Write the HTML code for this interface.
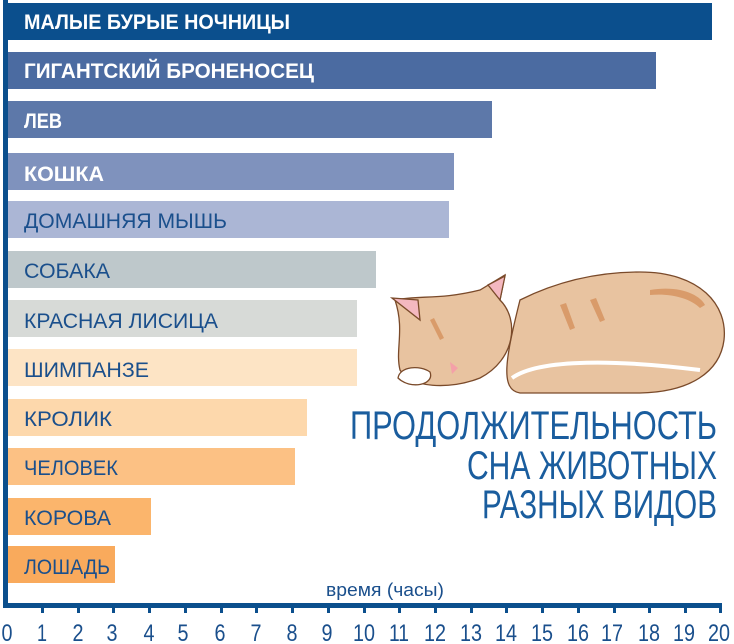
<!DOCTYPE html>
<html><head><meta charset="utf-8"><style>
body{margin:0;background:#fff;}
svg{display:block;}
text{font-family:"Liberation Sans",sans-serif;}
</style></head><body>
<svg width="734" height="644" viewBox="0 0 734 644" xmlns="http://www.w3.org/2000/svg">
<g font-size="21" font-weight="bold" lengthAdjust="spacingAndGlyphs">
<rect x="8" y="3" width="704" height="37" fill="#0b4f8d"/>
<text x="24" y="29" fill="#fff" textLength="266" lengthAdjust="spacingAndGlyphs">МАЛЫЕ БУРЫЕ НОЧНИЦЫ</text>
<rect x="8" y="52" width="648" height="37" fill="#4b6ba1"/>
<text x="24" y="78" fill="#fff" textLength="290" lengthAdjust="spacingAndGlyphs">ГИГАНТСКИЙ БРОНЕНОСЕЦ</text>
<rect x="8" y="101" width="484" height="37" fill="#5d78a9"/>
<text x="24" y="128" fill="#fff" textLength="38" lengthAdjust="spacingAndGlyphs">ЛЕВ</text>
<rect x="8" y="153" width="446" height="37" fill="#7f92bd"/>
<text x="24" y="181" fill="#fff" textLength="80" lengthAdjust="spacingAndGlyphs">КОШКА</text>
</g>
<g font-size="21" fill="#1a4f8c">
<rect x="8" y="201" width="441" height="37" fill="#abb6d5"/>
<text x="24" y="228" textLength="203" lengthAdjust="spacingAndGlyphs">ДОМАШНЯЯ МЫШЬ</text>
<rect x="8" y="251" width="368" height="37" fill="#bec8cb"/>
<text x="24" y="278" textLength="86" lengthAdjust="spacingAndGlyphs">СОБАКА</text>
<rect x="8" y="300" width="349" height="37" fill="#d7dad7"/>
<text x="24" y="328" textLength="194" lengthAdjust="spacingAndGlyphs">КРАСНАЯ ЛИСИЦА</text>
<rect x="8" y="349" width="349" height="37" fill="#fde4c5"/>
<text x="24" y="377" textLength="125" lengthAdjust="spacingAndGlyphs">ШИМПАНЗЕ</text>
<rect x="8" y="399" width="299" height="37" fill="#fdd8ac"/>
<text x="24" y="426" textLength="88" lengthAdjust="spacingAndGlyphs">КРОЛИК</text>
<rect x="8" y="448" width="287" height="37" fill="#fcc184"/>
<text x="24" y="475" textLength="94" lengthAdjust="spacingAndGlyphs">ЧЕЛОВЕК</text>
<rect x="8" y="498" width="143" height="37" fill="#fbb56c"/>
<text x="24" y="525" textLength="87" lengthAdjust="spacingAndGlyphs">КОРОВА</text>
<rect x="8" y="546" width="107" height="37" fill="#f9aa5c"/>
<text x="24" y="574" textLength="86" lengthAdjust="spacingAndGlyphs">ЛОШАДЬ</text>
</g>
<!-- cat -->
<g stroke="#7a4a2a" stroke-width="1.3">
<path d="M520 300 C560 280 600 272 640 272 C700 272 728 305 724 340 C720 372 690 392 640 393 L520 393 C500 390 505 360 520 300 Z" fill="#e8c3a0"/>
<path d="M395 300 C420 295 440 300 480 290 L505 275 L500 300 C520 320 515 360 480 378 C450 390 410 388 400 370 C395 350 405 330 395 300 Z" fill="#e8c3a0"/>
<path d="M392 298 L418 300 L420 320 Z" fill="#f4b8c0"/>
<path d="M488 285 L505 276 L500 300 Z" fill="#f4b8c0"/>
<path d="M398 378 C400 366 420 365 430 372 C435 385 410 390 398 378 Z" fill="#fff"/>
<path d="M450 362 L458 368 L452 374 Z" fill="#f4a0a8" stroke="none"/>
<path d="M512 378 C540 358 620 360 700 370" fill="none" stroke="#fff" stroke-width="4"/>
</g>
<g fill="#d99b6a">
<path d="M650 290 C680 285 700 295 705 305 L700 308 C690 298 670 293 650 295Z"/>
<path d="M560 305 L570 330 L575 328 L566 303Z"/>
<path d="M590 300 L600 322 L605 320 L596 298Z"/>
<path d="M430 320 L440 340 L444 338 L434 318Z"/>
</g>
<!-- title -->
<g fill="#1a5d9e" font-size="40" text-anchor="end">
<text x="717" y="439" textLength="367" lengthAdjust="spacingAndGlyphs">ПРОДОЛЖИТЕЛЬНОСТЬ</text>
<text x="717" y="479" textLength="250" lengthAdjust="spacingAndGlyphs">СНА ЖИВОТНЫХ</text>
<text x="717" y="518" textLength="235" lengthAdjust="spacingAndGlyphs">РАЗНЫХ ВИДОВ</text>
</g>
<!-- axes -->
<rect x="3" y="0" width="5" height="608" fill="#0b4f8d"/>
<rect x="3" y="603" width="719" height="5" fill="#0b4f8d"/>
<text x="385" y="596" font-size="18" fill="#1a4f8c" text-anchor="middle" textLength="118" lengthAdjust="spacingAndGlyphs">время (часы)</text>
<g fill="#0b4f8d">
<rect x="41" y="606" width="3" height="7"/><rect x="77" y="606" width="3" height="7"/><rect x="112" y="606" width="3" height="7"/><rect x="148" y="606" width="3" height="7"/><rect x="184" y="606" width="3" height="7"/><rect x="220" y="606" width="3" height="7"/><rect x="255" y="606" width="3" height="7"/><rect x="291" y="606" width="3" height="7"/><rect x="327" y="606" width="3" height="7"/><rect x="363" y="606" width="3" height="7"/><rect x="398" y="606" width="3" height="7"/><rect x="434" y="606" width="3" height="7"/><rect x="470" y="606" width="3" height="7"/><rect x="505" y="606" width="3" height="7"/><rect x="541" y="606" width="3" height="7"/><rect x="577" y="606" width="3" height="7"/><rect x="613" y="606" width="3" height="7"/><rect x="648" y="606" width="3" height="7"/><rect x="684" y="606" width="3" height="7"/><rect x="719" y="606" width="3" height="7"/>
</g>
<g font-size="24" fill="#1a4f8c" text-anchor="middle">
<text x="7" y="641" textLength="11" lengthAdjust="spacingAndGlyphs">0</text><text x="42" y="641" textLength="10" lengthAdjust="spacingAndGlyphs">1</text><text x="78" y="641" textLength="11" lengthAdjust="spacingAndGlyphs">2</text><text x="112" y="641" textLength="11" lengthAdjust="spacingAndGlyphs">3</text><text x="149" y="641" textLength="11" lengthAdjust="spacingAndGlyphs">4</text><text x="183" y="641" textLength="11" lengthAdjust="spacingAndGlyphs">5</text><text x="220" y="641" textLength="11" lengthAdjust="spacingAndGlyphs">6</text><text x="256" y="641" textLength="11" lengthAdjust="spacingAndGlyphs">7</text><text x="292" y="641" textLength="11" lengthAdjust="spacingAndGlyphs">8</text><text x="327" y="641" textLength="11" lengthAdjust="spacingAndGlyphs">9</text><text x="364" y="641" textLength="22" lengthAdjust="spacingAndGlyphs">10</text><text x="399" y="641" textLength="20" lengthAdjust="spacingAndGlyphs">11</text><text x="435" y="641" textLength="22" lengthAdjust="spacingAndGlyphs">12</text><text x="471" y="641" textLength="22" lengthAdjust="spacingAndGlyphs">13</text><text x="506" y="641" textLength="22" lengthAdjust="spacingAndGlyphs">14</text><text x="542" y="641" textLength="22" lengthAdjust="spacingAndGlyphs">15</text><text x="578" y="641" textLength="22" lengthAdjust="spacingAndGlyphs">16</text><text x="612" y="641" textLength="22" lengthAdjust="spacingAndGlyphs">17</text><text x="649" y="641" textLength="22" lengthAdjust="spacingAndGlyphs">18</text><text x="684" y="641" textLength="22" lengthAdjust="spacingAndGlyphs">19</text><text x="719" y="641" textLength="22" lengthAdjust="spacingAndGlyphs">20</text>
</g>
</svg>
</body></html>
